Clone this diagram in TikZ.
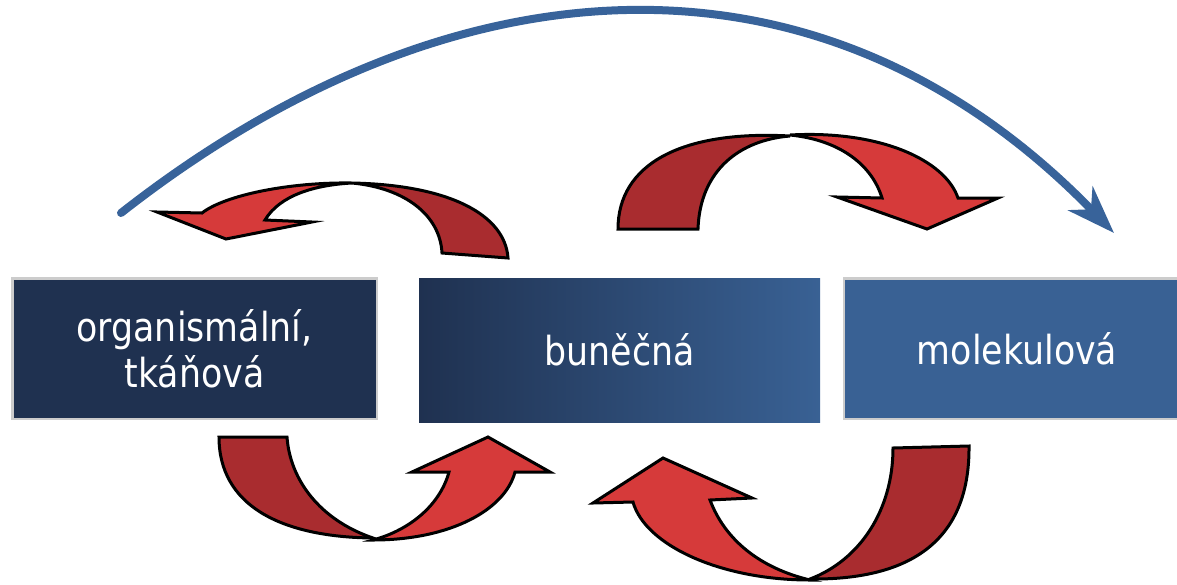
\documentclass[tikz,border=0pt]{standalone}
\usepackage{fontspec}
\usepackage{xcolor}
\usepackage{tikz}
\usetikzlibrary{arrows.meta}
\newfontfamily\boxfont{DejaVu Sans}[FakeStretch=0.87]
\definecolor{navy}{HTML}{1F3150}
\definecolor{steel}{HTML}{396194}
\definecolor{arcblue}{HTML}{38639A}
\definecolor{redfront}{HTML}{D63A3A}
\definecolor{redback}{HTML}{A92C2F}
\definecolor{edgegray}{HTML}{CCCCCC}
\tikzstyle{level} = [rectangle, inner sep=0pt, text=white, align=center,
font=\boxfont\fontsize{40}{46}\selectfont, minimum height=140.5pt]
\tikzstyle{framed} = [draw=edgegray, line width=2.5pt]
\tikzstyle{frontband} = [fill=redfront, draw=black, line width=3pt]
\tikzstyle{backband} = [fill=redback, draw=black, line width=3pt]
\tikzstyle{arcline} = [draw=arcblue, line width=8pt, line cap=round,
-{Stealth[length=48pt, width=34pt, inset=15pt]}]

\begin{document}
\begin{tikzpicture}[x=1pt, y=-1pt]
        \useasboundingbox (0,0) rectangle (1177,584);
        \node [level, framed, fill=navy, minimum width=364.5pt] (org) at (194.5,348.5) {organismální,\\tkáňová};
        \node [level, left color=navy, right color=steel, minimum width=401pt, minimum height=144pt] (bun) at (619.5,350) {buněčná};
        \node [level, framed, fill=steel, minimum width=345.75pt] (mol) at (1017.1,348.5) {molekulová};
        \coordinate (arcstart) at (121,213);
        \coordinate (arcend) at (1114,233);
        \draw [arcline] (arcstart) .. controls (450,-45) and (820,-70) .. (arcend);
        \path [backband] (442,253) -- (508,258) .. controls (505,215) and (450,185) .. (352,183) .. controls (405,188) and (440,215) .. cycle;
        \path [frontband] (352,183) .. controls (290,182) and (225,195) .. (202,213) -- (157,212) -- (226,239) -- (312,222) -- (265,220) .. controls (280,195) and (315,185) .. cycle;
        \path [backband] (618,229) -- (698,229) .. controls (700,170) and (740,140) .. (790,136) .. controls (680,130) and (618,165) .. cycle;
        \path [frontband] (790,135) .. controls (880,130) and (945,160) .. (958,198) -- (998,198) -- (927,229) -- (837,197) -- (882,198) .. controls (872,165) and (840,140) .. cycle;
        \path [backband] (219,437) -- (287,437) .. controls (290,480) and (320,520) .. (373,538) .. controls (280,537) and (219,505) .. cycle;
        \path [frontband] (373,540) .. controls (450,540) and (505,510) .. (515,472) -- (550,472) -- (488,437) -- (412,472) -- (449,472) .. controls (440,505) and (410,530) .. cycle;
        \path [backband] (893,448) -- (969,446) .. controls (970,545) and (905,580) .. (810,579) .. controls (860,560) and (893,510) .. cycle;
        \path [frontband] (810,580) .. controls (720,580) and (645,545) .. (633,502) -- (593,503) -- (663,458) -- (752,498) -- (710,500) .. controls (725,540) and (760,568) .. cycle;
    \end{tikzpicture}
\end{document}
